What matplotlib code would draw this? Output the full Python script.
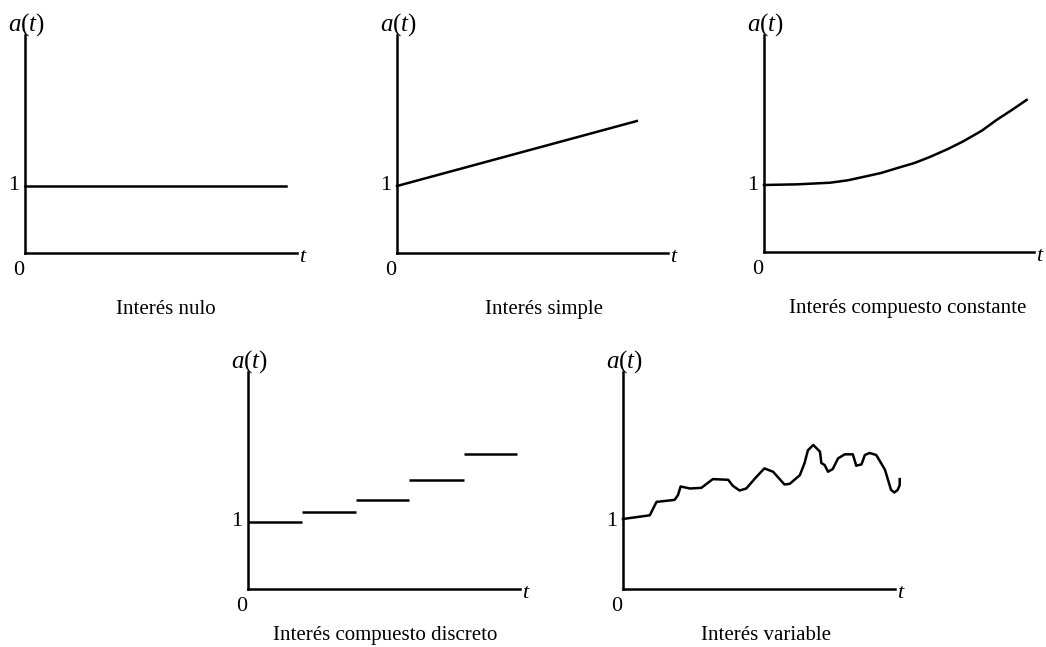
import matplotlib
matplotlib.use("Agg")
from matplotlib import pyplot as plt

plt.rcParams["font.family"] = ["Liberation Serif", "DejaVu Serif"]
plt.rcParams["mathtext.fontset"] = "custom"
plt.rcParams["mathtext.rm"] = "Liberation Serif"
plt.rcParams["mathtext.it"] = "Liberation Serif:italic"

# --- data (t in arbitrary units, a(t) with a(0) = 1) ---
nulo_t = [0, 3.9]
nulo_a = [1, 1]

simple_t = [0, 3.58]
simple_a = [1, 1.97]

comp_t = [0, 0.5, 0.985, 1.25, 1.48, 1.75, 1.98, 2.25, 2.48, 2.75, 2.97, 3.25,
          3.47, 3.7, 3.92]
comp_a = [1.0, 1.01, 1.034, 1.07, 1.12, 1.18, 1.25, 1.33, 1.42, 1.54, 1.65, 1.81,
          1.97, 2.12, 2.27]

disc_edges = [0, 0.8, 1.61, 2.41, 3.22, 4.01]
disc_a = [1.0, 1.145, 1.324, 1.62, 2.02]

var_t = [0.0, 0.40, 0.45, 0.50, 0.77, 0.82, 0.86, 1.00, 1.17, 1.34, 1.57, 1.64,
         1.74, 1.84, 1.97, 2.11, 2.24, 2.41, 2.49, 2.64, 2.71, 2.76, 2.84, 2.94,
         2.96, 3.01, 3.06, 3.13, 3.21, 3.31, 3.43, 3.47, 3.48, 3.56, 3.61, 3.68,
         3.78, 3.91, 3.97, 4.00, 4.05, 4.10, 4.13, 4.13]
var_a = [1.045, 1.10, 1.20, 1.30, 1.33, 1.40, 1.53, 1.50, 1.51, 1.64, 1.63, 1.54,
         1.47, 1.50, 1.65, 1.80, 1.75, 1.56, 1.57, 1.70, 1.88, 2.07, 2.15, 2.05,
         1.88, 1.85, 1.75, 1.79, 1.95, 2.01, 2.01, 1.88, 1.84, 1.86, 2.00, 2.03,
         2.00, 1.78, 1.58, 1.48, 1.44, 1.48, 1.55, 1.64]

captions = ["Interés nulo", "Interés simple", "Interés compuesto constante",
            "Interés compuesto discreto", "Interés variable"]

W, H = 1046, 647
U = 67.0  # pixels per data unit

# origin x, origin y, axis end x, axis top y (pixels), caption x, caption y (data)
panels = [
    (25, 253, 297, 35, 2.1, -0.84),
    (397, 253, 668, 35, 2.2, -0.84),
    (764, 252, 1034, 35, 2.15, -0.84),
    (248, 589, 520, 372, 2.05, -0.69),
    (623, 589, 895, 372, 2.14, -0.69),
]

fig = plt.figure(figsize=(W / 100, H / 100), dpi=100)
axes = []
for x0, y0, x1, y1, cx, cy in panels:
    ax = fig.add_axes([x0 / W, (H - y0) / H, (x1 - x0) / W, (y0 - y1) / H])
    ax.set_xlim(0, (x1 - x0) / U)
    ax.set_ylim(0, (y0 - y1) / U)
    for s in ["top", "right"]:
        ax.spines[s].set_visible(False)
    for s in ["left", "bottom"]:
        ax.spines[s].set_linewidth(1.8)
    ax.set_xticks([])
    ax.set_yticks([])
    ax.patch.set_alpha(0)
    xm = (x1 - x0) / U
    ym = (y0 - y1) / U
    ax.text(-0.08, 1, "1", ha="right", va="center", fontsize=16)
    ax.text(-0.1, -0.26, "0", ha="center", va="center", fontsize=16)
    ax.text(xm + 0.09, -0.07, "$t$", ha="center", va="center", fontsize=16)
    ax.text(0.03, ym + 0.15, "$a(t)$", ha="center", va="center", fontsize=18)
    axes.append(ax)

kw = dict(color="black", lw=1.8, clip_on=False, solid_joinstyle="round")
axes[0].plot(nulo_t, nulo_a, **kw)
axes[1].plot(simple_t, simple_a, **kw)
axes[2].plot(comp_t, comp_a, **kw)
axes[3].hlines(disc_a, disc_edges[:-1], disc_edges[1:], colors="black", lw=1.8)
axes[4].plot(var_t, var_a, **kw)

for ax, cap, p in zip(axes, captions, panels):
    ax.text(p[4], p[5], cap, ha="center", va="center", fontsize=15)

fig.savefig("out.png", dpi=100, facecolor="white")
